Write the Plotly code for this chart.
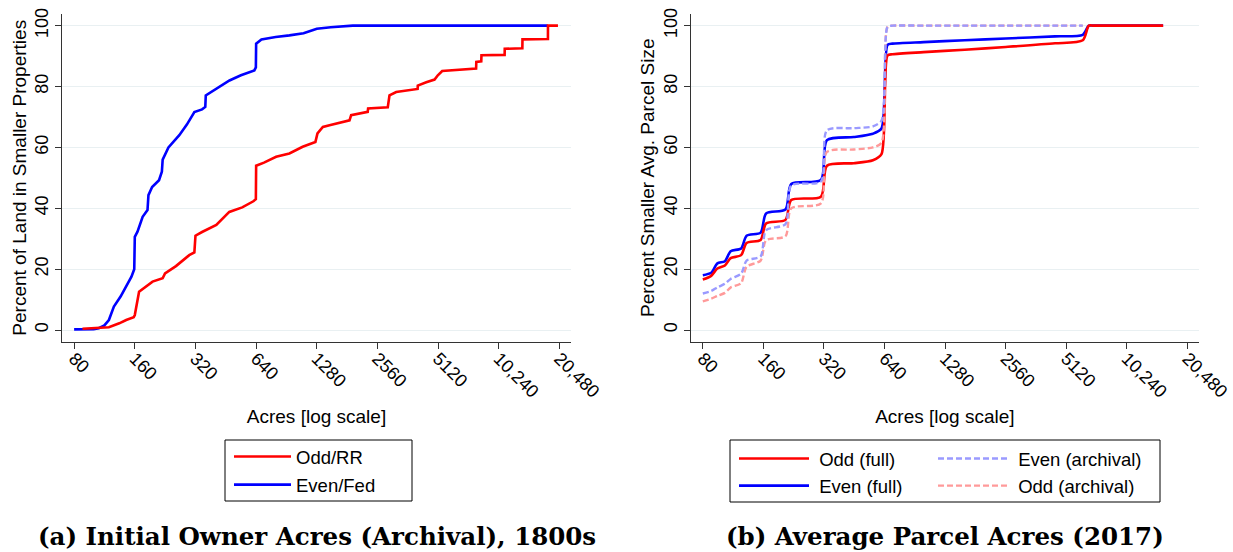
import math
import plotly.graph_objects as go

# ---------------- Panel (a): Initial owner acres (archival) ----------------
fed_acres = [80, 100, 106, 113, 119, 126, 136, 145, 154, 159, 160, 165, 175, 185, 187,
             195, 211, 218, 220, 235, 266, 290, 316, 345, 358, 360, 405, 472, 538, 627,
             638, 640, 680, 800, 936, 1100, 1218, 1280, 1500, 1750, 1930, 17900]
fed_pct = [0.2, 0.3, 0.6, 1.5, 3.3, 7.7, 11.0, 14.2, 17.5, 20.0, 30.6, 32.3, 37.2, 39.4, 44.3,
           47.0, 49.2, 52.0, 56.0, 60.0, 64.0, 67.5, 71.6, 72.5, 73.3, 77.1, 79.3, 82.0, 83.7, 85.3,
           86.3, 94.1, 95.5, 96.3, 96.8, 97.5, 98.5, 99.0, 99.5, 99.8, 100.0, 100.0]

rr_acres = [88, 100, 119, 134, 145, 158, 160, 168, 196, 220, 226, 256, 298, 316, 320,
            345, 406, 471, 546, 620, 638, 640, 700, 804, 936, 1089, 1260, 1290, 1372, 1480,
            1860, 1895, 2290, 2300, 2880, 2937, 3170, 4050, 4057, 4470, 4915, 5102, 5362,
            7900, 7920, 8380, 8400, 10945, 10960, 13400, 13420, 17950, 17960, 20130]
rr_pct = [0.4, 0.7, 0.9, 2.2, 3.3, 4.2, 4.9, 12.6, 15.9, 17.0, 18.6, 21.0, 24.6, 25.5, 31.0,
          32.2, 34.5, 38.8, 40.3, 42.3, 43.0, 54.0, 55.0, 56.9, 58.0, 60.2, 61.8, 64.6, 66.7, 67.3,
          68.9, 70.6, 71.7, 72.8, 73.2, 77.1, 78.2, 79.2, 80.3, 81.4, 82.3, 83.7, 85.1,
          85.9, 88.1, 88.3, 90.3, 90.4, 92.4, 92.6, 95.5, 95.6, 100.0, 100.0]

# ---------------- Panel (b): Average parcel acres (2017) ----------------
parcel_acres = [80, 88, 94.5, 103, 110, 124, 132, 155, 165, 206, 220, 309, 331, 450, 560,
                618, 662, 700, 1000, 1600, 2560, 4500, 6180, 6620, 7000, 15500]
odd_full = [16.6, 17.8, 20.2, 21.2, 23.6, 24.6, 28.6, 29.6, 35.0, 36.2, 42.7, 43.8, 54.0, 54.8, 55.8,
            57.8, 90.2, 90.6, 91.3, 92.1, 93.0, 94.2, 95.2, 100, 100, 100]
even_full = [18.0, 18.8, 21.9, 22.6, 25.9, 26.8, 31.0, 32.0, 38.3, 39.6, 48.0, 49.3, 62.4, 63.4, 64.5,
             66.2, 93.7, 94.1, 94.6, 95.2, 95.8, 96.5, 97.0, 100, 100, 100]
even_arch = [12.0, 12.8, 14.0, 15.2, 16.8, 18.5, 22.8, 24.2, 32.8, 34.8, 47.5, 48.8, 65.6, 66.3, 66.9,
             68.8, 99.6, 100, 100, 100, 100, 100, 100, None, None, None]
odd_arch = [9.4, 10.3, 11.2, 12.2, 14.0, 15.4, 20.8, 22.8, 29.5, 30.8, 40.0, 41.6, 58.5, 59.3, 60.0,
            61.5, 99.6, 100, 100, 100, 100, 100, 100, None, None, None]

tick_vals = [80, 160, 320, 640, 1280, 2560, 5120, 10240, 20480]
tick_text = ["80", "160", "320", "640", "1280", "2560", "5120", "10,240", "20,480"]
y_ticks = [0, 20, 40, 60, 80, 100]

RED = "#ff0000"
BLUE = "#0000ff"
LRED = "#ff9a9a"
LBLUE = "#9a9aff"
FONT = "Arial, 'Liberation Sans', sans-serif"
W, H = 1233, 552
SMOOTH = 0.7

fig = go.Figure()

fig.add_trace(go.Scatter(x=fed_acres, y=fed_pct, mode="lines", name="Even/Fed",
                         line=dict(color=BLUE, width=2.6), xaxis="x", yaxis="y",
                         legend="legend", legendgroup="a2", legendrank=2))
fig.add_trace(go.Scatter(x=rr_acres, y=rr_pct, mode="lines", name="Odd/RR",
                         line=dict(color=RED, width=2.6), xaxis="x", yaxis="y",
                         legend="legend", legendgroup="a1", legendrank=1))

fig.add_trace(go.Scatter(x=parcel_acres, y=even_full, mode="lines", name="\u00a0Even (full)",
                         line=dict(color=BLUE, width=2.6, shape="spline", smoothing=SMOOTH),
                         xaxis="x2", yaxis="y2", legend="legend2", legendgroup="b2", legendrank=2))
fig.add_trace(go.Scatter(x=parcel_acres, y=odd_full, mode="lines", name="\u00a0Odd (full)",
                         line=dict(color=RED, width=2.6, shape="spline", smoothing=SMOOTH),
                         xaxis="x2", yaxis="y2", legend="legend2", legendgroup="b1", legendrank=1))
fig.add_trace(go.Scatter(x=parcel_acres, y=odd_arch, mode="lines", name="\u00a0Odd (archival)",
                         line=dict(color=LRED, width=2.4, dash="6px,3px", shape="spline", smoothing=SMOOTH),
                         xaxis="x2", yaxis="y2", legend="legend3", legendgroup="b4", legendrank=2))
fig.add_trace(go.Scatter(x=parcel_acres, y=even_arch, mode="lines", name="\u00a0Even (archival)",
                         line=dict(color=LBLUE, width=2.4, dash="6px,3px", shape="spline", smoothing=SMOOTH),
                         xaxis="x2", yaxis="y2", legend="legend3", legendgroup="b3", legendrank=1))

xr = [math.log10(80) - 0.2 * math.log10(2), math.log10(80) + 8.19 * math.log10(2)]


def xaxis(domain, anchor):
    return dict(domain=domain, anchor=anchor, type="log", range=xr, automargin=False,
                tickmode="array", tickvals=tick_vals, ticktext=tick_text,
                tickangle=45, ticks="outside", ticklen=6, tickcolor="#333", tickwidth=1,
                ticklabelstandoff=-8,
                showline=True, linecolor="#333", linewidth=1, showgrid=False, zeroline=False,
                tickfont=dict(family=FONT, size=18, color="#000"),
                title=dict(text="Acres [log scale]", font=dict(family=FONT, size=19, color="#000"),
                           standoff=8))


def yaxis(domain, anchor, title):
    return dict(domain=domain, anchor=anchor, range=[-3.94, 104], tickmode="array",
                automargin=False,
                tickvals=y_ticks, tickangle=-90, ticks="outside", ticklen=6, tickcolor="#333",
                showline=True, linecolor="#333", linewidth=1, showgrid=True,
                gridcolor="#e9f0f2", gridwidth=1, zeroline=False,
                tickfont=dict(family=FONT, size=18, color="#000"),
                title=dict(text=title, font=dict(family=FONT, size=19, color="#000"), standoff=0))


ytop = 1 - 13.5 / H
ybot = 1 - 342 / H

legend_common = dict(bgcolor="rgba(0,0,0,0)", borderwidth=0, orientation="v",
                     font=dict(family=FONT, size=18.5, color="#000"),
                     xanchor="left", yanchor="top", traceorder="grouped")

fig.update_layout(
    width=W, height=H, autosize=False,
    margin=dict(l=0, r=0, t=0, b=0, autoexpand=False),
    paper_bgcolor="white", plot_bgcolor="white",
    xaxis=xaxis([62 / W, 571 / W], "y"),
    yaxis=yaxis([ybot, ytop], "x", "Percent of Land in Smaller Properties"),
    xaxis2=xaxis([690.7 / W, 1199 / W], "y2"),
    yaxis2=yaxis([ybot, ytop], "x2", "Percent Smaller Avg. Parcel Size"),
    legend=dict(x=229 / W, y=1 - 438 / H, itemwidth=57, tracegroupgap=1, **legend_common),
    legend2=dict(x=734 / W, y=1 - 440 / H, itemwidth=70, tracegroupgap=0, **legend_common),
    legend3=dict(x=933 / W, y=1 - 440 / H, itemwidth=70, tracegroupgap=0, **legend_common),
    shapes=[
        dict(type="rect", xref="paper", yref="paper", x0=225 / W, x1=412 / W,
             y0=1 - 501 / H, y1=1 - 440 / H, line=dict(color="#000", width=1)),
        dict(type="rect", xref="paper", yref="paper", x0=730 / W, x1=1160 / W,
             y0=1 - 502 / H, y1=1 - 440 / H, line=dict(color="#000", width=1)),
    ],
    annotations=[
        dict(text="<b>(a) Initial Owner Acres (Archival), 1800s</b>", xref="paper", yref="paper",
             x=316.5 / W, y=1 - 536 / H, xanchor="center", yanchor="middle", showarrow=False,
             font=dict(family="DejaVu Serif", size=24.5, color="#000")),
        dict(text="<b>(b) Average Parcel Acres (2017)</b>", xref="paper", yref="paper",
             x=945 / W, y=1 - 536 / H, xanchor="center", yanchor="middle", showarrow=False,
             font=dict(family="DejaVu Serif", size=24.5, color="#000")),
    ],
)

fig.write_html("out.html")
